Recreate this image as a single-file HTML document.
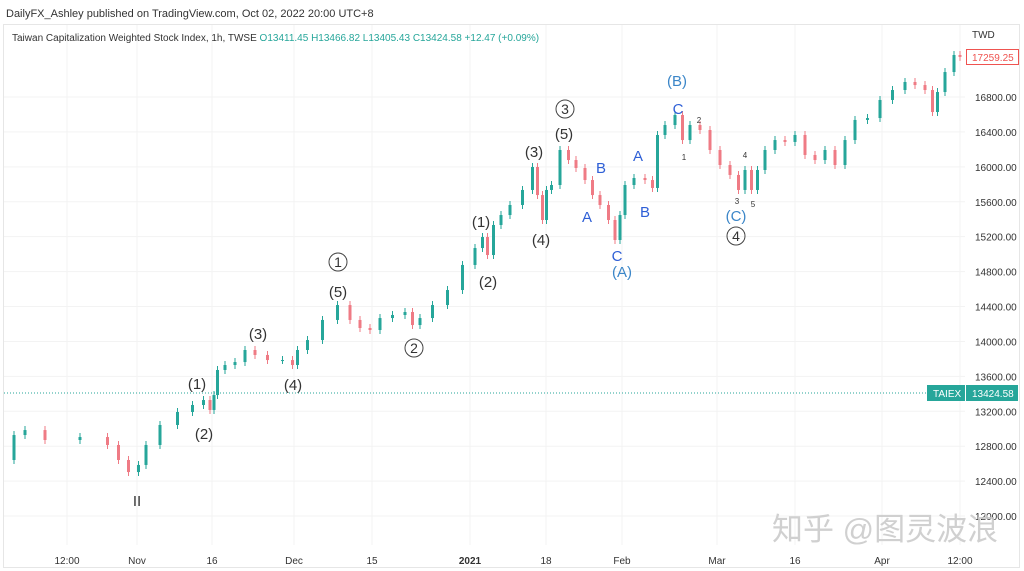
<!DOCTYPE html>
<html><head><meta charset="utf-8">
<style>
body{margin:0;width:1024px;height:571px;background:#fff;overflow:hidden;font-family:"Liberation Sans","Noto Sans CJK SC",sans-serif;}
svg{position:absolute;left:0;top:0}
</style></head>
<body>
<svg id="chart" width="1024" height="571">
<text x="6" y="17" font-size="11" fill="#333">DailyFX_Ashley published on TradingView.com, Oct 02, 2022 20:00 UTC+8</text>
<rect x="3.5" y="24.5" width="1016" height="543" fill="none" stroke="#e6e6e6"/>
<g id="grid"></g>
<g id="candles"></g>
<g id="labels"></g>
<text x="12" y="41" font-size="10" fill="#333">Taiwan Capitalization Weighted Stock Index, 1h, TWSE <tspan fill="#26a69a">O13411.45 H13466.82 L13405.43 C13424.58 +12.47 (+0.09%)</tspan></text>
<text x="972" y="38" font-size="10" fill="#333">TWD</text>
<line x1="4" y1="393" x2="928" y2="393" stroke="#26a69a" stroke-dasharray="1,2"/>
<rect x="927" y="385" width="38" height="16" fill="#26a69a"/>
<text x="933" y="397" font-size="10" fill="#fff">TAIEX</text>
<rect x="966" y="385" width="52" height="16" fill="#26a69a"/>
<text x="972" y="397" font-size="10" fill="#fff">13424.58</text>
<rect x="966.5" y="49.5" width="52" height="15" fill="#fff" stroke="#ef5350"/>
<text x="972" y="61" font-size="10" fill="#ef5350">17259.25</text>
<text x="772" y="540" font-size="31" fill="#c8c8c8" fill-opacity="0.85">知乎 @图灵波浪</text>
</svg>
<script>
const priceTicks=[12000,12400,12800,13200,13600,14000,14400,14800,15200,15600,16000,16400,16800];
const timeTickLabels=["12:00","Nov","16","Dec","15","2021","18","Feb","Mar","16","Apr","12:00"];
const timeTickDays=[11.8,25.8,40.8,57.2,72.8,92.4,107.6,122.8,141.8,157.4,174.8,190.4];
const days=[0,2.4,4.4,10.4,18.4,21.4,22.8,25.4,26.8,28.4,32.4,35.4,38.4,39.8,41,41.4,42.4,44.4,46.4,48.4,50.4,53.4,56.4,57.4,58.4,61.4,64.4,67.4,69.4,71.4,73.4,75.4,78.4,80.4,81.4,83.4,86.4,89.4,92.4,94.4,95.4,96.4,97.8,99.4,101.4,104.4,105.4,106.4,107.4,108,109.4,111.4,112.8,114.4,116.4,117.4,119.4,120.8,122,122.8,124,126.4,128.4,129.4,130.4,132.4,134.4,135.4,137.4,139.4,141.4,143.4,145.4,146.8,148,149.4,150.4,152.4,154.4,156.4,158.4,160.4,162.4,164.4,166.4,168.4,170.4,173.4,175.4,178.4,180.4,182.4,184.4,185.4,186.4,188.4,190,190.8];
const closes=[12642,12928,12985,12871,12905,12814,12642,12504,12585,12814,13043,13192,13272,13329,13215,13386,13673,13730,13764,13902,13845,13787,13787,13730,13902,14016,14246,14417,14246,14154,14131,14268,14303,14337,14188,14268,14417,14589,14876,15070,15196,14990,15334,15448,15563,15735,15998,15677,15391,15735,15792,16193,16078,15987,15849,15677,15563,15391,15162,15448,15792,15872,15849,15758,16365,16479,16594,16307,16479,16422,16193,16021,15907,15735,15964,15735,15964,16193,16307,16285,16365,16136,16078,16193,16021,16307,16537,16559,16766,16880,16972,16937,16880,16628,16857,17086,17281,17259];
const ns="http://www.w3.org/2000/svg";
const X=d=>8+5*d;
const Y=v=>97+(16800-v)*0.0873;
const grid=document.getElementById('grid');
priceTicks.forEach(p=>{
 const l=document.createElementNS(ns,'line');
 l.setAttribute('x1',4);l.setAttribute('x2',965);l.setAttribute('y1',Y(p));l.setAttribute('y2',Y(p));
 l.setAttribute('stroke','#f3f3f3');
 
 
 grid.appendChild(l);
 const t=document.createElementNS(ns,'text');
 t.setAttribute('x',975);t.setAttribute('y',Y(p)+4);t.setAttribute('font-size','10');t.setAttribute('fill','#333');
 t.textContent=p.toFixed(2);
 
 
 grid.appendChild(t);
});
timeTickDays.forEach((d,i)=>{
 const l=document.createElementNS(ns,'line');
 l.setAttribute('x1',X(d));l.setAttribute('x2',X(d));l.setAttribute('y1',25);l.setAttribute('y2',545);
 l.setAttribute('stroke','#f3f3f3');
 
 
 grid.appendChild(l);
 const t=document.createElementNS(ns,'text');
 t.setAttribute('x',X(d));t.setAttribute('y',564);t.setAttribute('font-size','10');t.setAttribute('text-anchor','middle');
 t.setAttribute('fill','#333');
 if(timeTickLabels[i]==="2021")t.setAttribute('font-weight','bold');
 t.textContent=timeTickLabels[i];
 
 
 grid.appendChild(t);
});
const cg=document.getElementById('candles');
for(let i=1;i<closes.length;i++){
 const o=closes[i-1],c=closes[i];
 const up=c>=o,col=up?'#26a69a':'#ef7b85';
 const x=(X(days[i-1])+X(days[i]))/2,yo=Y(o),yc=Y(c);
 const top=Math.min(yo,yc),bot=Math.max(yo,yc);
 const w=document.createElementNS(ns,'line');
 w.setAttribute('x1',x);w.setAttribute('x2',x);w.setAttribute('y1',top-4);w.setAttribute('y2',bot+4);
 w.setAttribute('stroke',col);w.setAttribute('stroke-width','1');
 
 
 cg.appendChild(w);
 const b=document.createElementNS(ns,'rect');
 b.setAttribute('x',x-1.5);b.setAttribute('width',3);b.setAttribute('y',top);b.setAttribute('height',Math.max(1,bot-top));
 b.setAttribute('fill',col);
 
 
 cg.appendChild(b);
}
const lg=document.getElementById('labels');
const labs=[
 ["II",137,506,15,"#333",0],["(1)",197,389,15,"#333",0],["(2)",204,439,15,"#333",0],["(3)",258,339,15,"#333",0],
 ["(4)",293,390,15,"#333",0],["1",338,267,14,"#333",1],["(5)",338,297,15,"#333",0],["2",414,353,14,"#333",1],
 ["(1)",481,227,15,"#333",0],["(2)",488,287,15,"#333",0],["(3)",534,157,15,"#333",0],["(4)",541,245,15,"#333",0],
 ["3",565,114,14,"#333",1],["(5)",564,139,15,"#333",0],
 ["B",601,173,15,"#2e5fd6",0],["A",587,222,15,"#2e5fd6",0],["B",645,217,15,"#2e5fd6",0],["C",617,261,15,"#2e5fd6",0],
 ["(A)",622,277,15,"#3b86c8",0],["A",638,161,15,"#2e5fd6",0],["(B)",677,86,15,"#3b86c8",0],["C",678,114,15,"#2e5fd6",0],
 ["2",699,123,8,"#333",0],["1",684,160,8,"#333",0],["4",745,158,8,"#333",0],["3",737,204,8,"#333",0],["5",753,207,8,"#333",0],
 ["(C)",736,221,15,"#3b86c8",0],["4",736,241,14,"#333",1]
];
labs.forEach(l=>{
 if(l[5]){
  const c=document.createElementNS(ns,'circle');
  c.setAttribute('cx',l[1]);c.setAttribute('cy',l[2]-5);c.setAttribute('r',9);
  c.setAttribute('fill','none');c.setAttribute('stroke','#444');
  
  
  lg.appendChild(c);
 }
 const t=document.createElementNS(ns,'text');
 t.setAttribute('x',l[1]);t.setAttribute('y',l[2]);t.setAttribute('font-size',l[3]);
 t.setAttribute('text-anchor','middle');t.setAttribute('fill',l[4]);
 t.textContent=l[0];
 
 
 lg.appendChild(t);
});
</script>
</body></html>
